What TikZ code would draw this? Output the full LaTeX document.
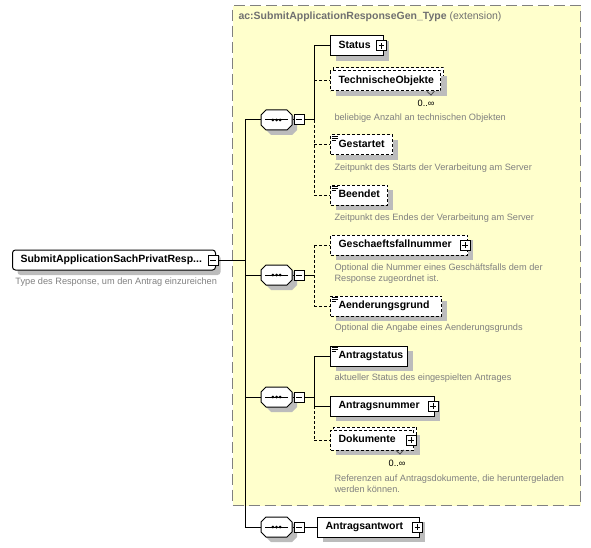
\documentclass[tikz,border=0pt]{standalone}
\usepackage{fontspec}
\setmainfont{Liberation Sans}
\usetikzlibrary{shadows}
\definecolor{extfill}{RGB}{255,255,204}
\definecolor{extborder}{RGB}{128,128,128}
\definecolor{desccol}{RGB}{128,128,128}
\definecolor{extlabcol}{RGB}{112,112,112}
\definecolor{shadowc}{RGB}{188,188,188}
\begin{document}
\begin{tikzpicture}[x=1pt,y=-1pt, line width=1pt,
  shad/.style={drop shadow={shadow xshift=5pt, shadow yshift=-5pt, fill=shadowc, opacity=1}},
  elem/.style={draw, fill=white, anchor=west, minimum height=20pt, inner xsep=8pt, inner ysep=0pt,
    align=left, text height=7.8pt, text depth=2.2pt, font=\fontsize{10.5}{12}\selectfont\bfseries, shad},
  optel/.style={elem, dash pattern=on 3pt off 2pt},
  backel/.style={draw, fill=white, anchor=west, minimum height=20pt, inner xsep=8pt, inner ysep=0pt,
    dash pattern=on 3pt off 2pt, drop shadow={shadow xshift=3pt, shadow yshift=-8pt, fill=shadowc, opacity=1}},
  rootel/.style={elem, rounded corners=3pt},
  optline/.style={dash pattern=on 3pt off 2pt},
  mbox/.style={draw, fill=white, minimum size=10pt, inner sep=0pt,
    path picture={\draw[line width=1pt] ([xshift=2.2pt]path picture bounding box.west) -- ([xshift=-2.2pt]path picture bounding box.east);}},
  pbox/.style={draw, fill=white, minimum size=10pt, inner sep=0pt,
    path picture={\draw[line width=1pt] ([xshift=2.2pt]path picture bounding box.west) -- ([xshift=-2.2pt]path picture bounding box.east)
      ([yshift=-2.2pt]path picture bounding box.north) -- ([yshift=2.2pt]path picture bounding box.south);}},
  seqanchor/.style={minimum width=31pt, minimum height=20pt, inner sep=0pt},
  octo/.pic={
    \fill[shadowc, shift={(5,5)}] (-15.5,-5) -- (-10.5,-10) -- (10.5,-10) -- (15.5,-5) -- (15.5,5) -- (10.5,10) -- (-10.5,10) -- (-15.5,5) -- cycle;
    \draw[fill=white] (-15.5,-5) -- (-10.5,-10) -- (10.5,-10) -- (15.5,-5) -- (15.5,5) -- (10.5,10) -- (-10.5,10) -- (-15.5,5) -- cycle;
    \draw (-11.5,0) -- (11.5,0);
    \fill (-3.6,0) circle (1.5) (0,0) circle (1.5) (3.6,0) circle (1.5);},
  desc/.style={anchor=west, inner sep=0pt, text=desccol, align=left, font=\fontsize{9.2}{11}\selectfont},
  card/.style={anchor=east, inner sep=0pt, font=\fontsize{9.2}{11}\selectfont},
  simpleicon/.pic={\draw[line width=0.8pt] (0,1.5)--(6,1.5) (0,3.5)--(6,3.5) (0,5.5)--(4.5,5.5);},
  multimark/.pic={\draw[line width=0.8pt, black!70] (-4,0.5)--(0,4)--(3.5,0);}
]
\useasboundingbox (0,0) rectangle (591,548);

% extension container
\node[draw=extborder, fill=extfill, line width=1.3pt, dash pattern=on 11pt off 5pt,
  minimum width=348pt, minimum height=500pt, anchor=north west, inner sep=0pt] (ext) at (232,5) {};
\node[anchor=west, inner sep=0pt, text=extlabcol, font=\fontsize{10.5}{12}\selectfont] (extlab) at (238,17)
  {\bfseries ac:SubmitApplicationResponseGen\_Type\mdseries\ (extension)};

% root
\node[rootel, text width=187pt] (root) at (12,260) {SubmitApplicationSachPrivatResp...};
\node[mbox] (rm) at (213,260) {};
\node[desc] (rootdesc) at (15,282) {Type des Response, um den Antrag einzureichen};

% junction coordinates
\coordinate (mx) at (245,0);
\coordinate (cx) at (314,0);

% sequences
\node[seqanchor] (s1) at (276.5,120) {};
\pic at (s1) {octo};
\node[mbox] (sm1) at (299,120) {};
\node[seqanchor] (s2) at (276.5,275) {};
\pic at (s2) {octo};
\node[mbox] (sm2) at (299,275) {};
\node[seqanchor] (s3) at (276.5,397) {};
\pic at (s3) {octo};
\node[mbox] (sm3) at (299,397) {};
\node[seqanchor] (s4) at (276.5,527) {};
\pic at (s4) {octo};
\node[mbox] (sm4) at (299,527) {};

% group 1 children
\node[elem, text width=37pt] (status) at (330,46) {Status};
\node[pbox] (statusp) at (381.5,46) {};
\node[backel, text width=94pt] (tobjb) at (333,78) {};
\node[optel, text width=94pt, drop shadow={opacity=0}] (tobj) at (330,81) {TechnischeObjekte};
\pic at (431,91) {multimark};
\node[card] (tobjc) at (435,103) {0..∞};
\node[desc] (tobjd) at (334,118) {beliebige Anzahl an technischen Objekten};
\node[optel, text width=46pt] (gest) at (330,145) {Gestartet};
\pic at ([xshift=1.5pt]gest.north west) {simpleicon};
\node[desc] (gestd) at (334,168) {Zeitpunkt des Starts der Verarbeitung am Server};
\node[optel, text width=41pt] (been) at (330,195) {Beendet};
\pic at ([xshift=1.5pt]been.north west) {simpleicon};
\node[desc] (beend) at (334,218) {Zeitpunkt des Endes der Verarbeitung am Server};

% group 2 children
\node[optel, text width=121pt] (gfn) at (330,245) {Geschaeftsfallnummer};
\node[pbox] (gfnp) at (465,245) {};
\node[desc] (gfnd) at (334,273.5) {Optional die Nummer eines Geschäftsfalls dem der\\Response zugeordnet ist.};
\node[optel, text width=95pt] (aeg) at (330,306) {Aenderungsgrund};
\pic at ([xshift=1.5pt]aeg.north west) {simpleicon};
\node[desc] (aegd) at (334,328) {Optional die Angabe eines Aenderungsgrunds};

% group 3 children
\node[elem, text width=61pt] (ast) at (330,356) {Antragstatus};
\pic at ([xshift=1.5pt]ast.north west) {simpleicon};
\node[desc] (astd) at (334,378) {aktueller Status des eingespielten Antrages};
\node[elem, text width=88pt] (anr) at (330,406) {Antragsnummer};
\node[pbox] (anrp) at (433,406) {};
\node[backel, text width=67pt] (dokb) at (333,437) {};
\node[optel, text width=67pt, drop shadow={opacity=0}] (dok) at (330,440) {Dokumente};
\node[pbox] (dokp) at (411,440) {};
\pic at (400,450) {multimark};
\node[card] (dokc) at (406,463) {0..∞};
\node[desc] (dokd) at (334,484) {Referenzen auf Antragsdokumente, die heruntergeladen\\werden können.};

% group 4 child
\node[elem, text width=86pt] (aaw) at (317,527) {Antragsantwort};
\node[pbox] (aawp) at (417.5,527) {};

% connectors root to sequences
\draw (rm.east) -- (rm.east -| mx);
\draw (s1.west -| mx) -- (s4.west -| mx);
\draw (s1.west -| mx) -- (s1.west);
\draw (s2.west -| mx) -- (s2.west);
\draw (s3.west -| mx) -- (s3.west);
\draw (s4.west -| mx) -- (s4.west);
\draw (s1.east) -- (sm1.west);
\draw (s2.east) -- (sm2.west);
\draw (s3.east) -- (sm3.west);
\draw (s4.east) -- (sm4.west);

% group 1
\draw (sm1.east) -- (sm1.east -| cx);
\draw (status.west -| cx) -- (sm1.east -| cx);
\draw (status.west -| cx) -- (status.west);
\draw[optline] (sm1.east -| cx) -- (been.west -| cx);
\draw[optline] (tobj.west -| cx) -- (tobj.west);
\draw[optline] (gest.west -| cx) -- (gest.west);
\draw[optline] (been.west -| cx) -- (been.west);

% group 2
\draw (sm2.east) -- (sm2.east -| cx);
\draw[optline] (gfn.west -| cx) -- (aeg.west -| cx);
\draw[optline] (gfn.west -| cx) -- (gfn.west);
\draw[optline] (aeg.west -| cx) -- (aeg.west);

% group 3
\draw (sm3.east) -- (sm3.east -| cx);
\draw (ast.west -| cx) -- (anr.west -| cx);
\draw (ast.west -| cx) -- (ast.west);
\draw (anr.west -| cx) -- (anr.west);
\draw[optline] (anr.west -| cx) -- (dok.west -| cx);
\draw[optline] (dok.west -| cx) -- (dok.west);

% group 4
\draw (sm4.east) -- (aaw.west);
\end{tikzpicture}
\end{document}
